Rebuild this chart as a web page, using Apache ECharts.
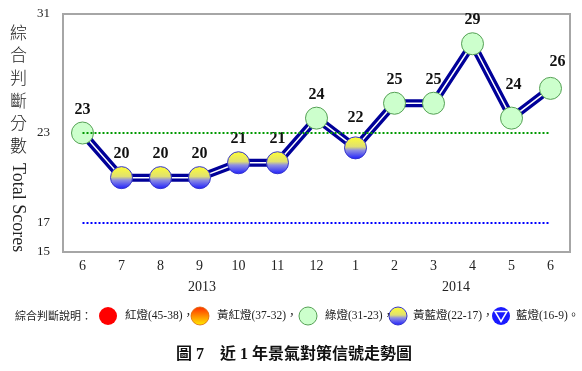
<!DOCTYPE html>
<html><head><meta charset="utf-8">
<script src="https://cdn.jsdelivr.net/npm/echarts@6/dist/echarts.min.js"></script>
<style>html,body{margin:0;padding:0;background:#fff}#c{width:582px;height:371px}</style>
</head><body><div id="c"></div>
<script>
var months = ['6','7','8','9','10','11','12','1','2','3','4','5','6'];
var scores = [23,20,20,20,21,21,24,22,25,25,29,24,26];
var yTicks = [15,17,23,31];
var years = ['2013','2014'];

var greenLevel = 23, blueLevel = 17;
var yearX = [202, 456];
// per-point label nudges (styling only)
var labelNudge = {7:[0,-7], 11:[2,-10], 12:[7,-3]};

var serif = '"Liberation Serif", "Times New Roman", serif';
var greenStyle = {color:'#ccffcc', borderColor:'#55a055', borderWidth:1};
var ybStyle = {
  color:{type:'linear',x:0,y:0,x2:0,y2:1,colorStops:[
    {offset:0,color:'#ffff33'},{offset:0.45,color:'#e0e070'},{offset:0.6,color:'#9090e0'},{offset:1,color:'#1a1aff'}]},
  borderColor:'#3333cc', borderWidth:1
};
function styleFor(v){ return v >= 23 ? greenStyle : ybStyle; }

var chart = echarts.init(document.getElementById('c'));
var legendY = 316;
var lf = '11.5px '+serif+', "Noto Sans CJK TC"';
var graphics = [
  {type:'text', left:10, top:21, style:{text:'綜\n合\n判\n斷\n分\n數', font:'300 17px "Noto Sans CJK TC"', lineHeight:22.6, fill:'#222'}},
  {type:'text', x:27, y:163, rotation:-Math.PI/2, style:{text:'Total Scores', font:'18px '+serif, fill:'#222', verticalAlign:'top'}},
  {type:'text', x:15, y:legendY, style:{text:'綜合判斷說明：', font:'11px "Noto Sans CJK TC"', fill:'#222', verticalAlign:'middle'}},
  {type:'circle', shape:{cx:108, cy:legendY, r:9}, style:{fill:'#ff0000'}},
  {type:'text', x:125, y:legendY, style:{text:'紅燈(45-38)，', font:lf, fill:'#222', verticalAlign:'middle'}},
  {type:'circle', shape:{cx:200, cy:legendY, r:9}, style:{fill:{type:'linear',x:0,y:0,x2:0,y2:1,colorStops:[{offset:0,color:'#ff2a00'},{offset:1,color:'#ffee00'}]}, stroke:'#dd6600', lineWidth:0.8}},
  {type:'text', x:217, y:legendY, style:{text:'黃紅燈(37-32)，', font:lf, fill:'#222', verticalAlign:'middle'}},
  {type:'circle', shape:{cx:308, cy:legendY, r:9}, style:{fill:'#ccffcc', stroke:'#55a055', lineWidth:1}},
  {type:'text', x:325, y:legendY, style:{text:'綠燈(31-23)，', font:lf, fill:'#222', verticalAlign:'middle'}},
  {type:'circle', shape:{cx:398, cy:legendY, r:9}, style:{fill:ybStyle.color, stroke:'#3333cc', lineWidth:1}},
  {type:'text', x:413, y:legendY, style:{text:'黃藍燈(22-17)，', font:lf, fill:'#222', verticalAlign:'middle'}},
  {type:'circle', shape:{cx:501, cy:legendY, r:9}, style:{fill:'#1a1aff'}},
  {type:'polygon', shape:{points:[[495,311.5],[507,311.5],[501,321.5]]}, style:{fill:'#1a1aff', stroke:'#ffffff', lineWidth:1.5}},
  {type:'text', x:516, y:legendY, style:{text:'藍燈(16-9)。', font:lf, fill:'#222', verticalAlign:'middle'}},
  {type:'text', x:294, y:355, style:{text:'圖 7　近 1 年景氣對策信號走勢圖', font:'bold 16px '+serif+', "Noto Sans CJK TC"', fill:'#111', align:'center', verticalAlign:'middle'}}
];
years.forEach(function(t, i){
  graphics.push({type:'text', x:yearX[i], y:287, style:{text:t, font:'14px '+serif, fill:'#222', align:'center', verticalAlign:'middle'}});
});

chart.setOption({
  animation:false,
  grid:{left:63, right:12, top:14, bottom:119, show:true, borderColor:'#a6a6a6', borderWidth:2, backgroundColor:'transparent'},
  xAxis:{type:'category', data:months, boundaryGap:true,
    axisLine:{show:false}, axisTick:{show:false}, splitLine:{show:false},
    axisLabel:{margin:7, fontFamily:serif, fontSize:14, color:'#222', interval:0}},
  yAxis:{type:'value', min:15, max:31, interval:1,
    axisLine:{show:false}, axisTick:{show:false}, splitLine:{show:false},
    axisLabel:{margin:13, fontFamily:serif, fontSize:13, color:'#222',
      formatter:function(v){ return yTicks.indexOf(v) >= 0 ? String(v) : ''; }}},
  graphic:graphics,
  series:[
    {type:'line', data:scores, symbol:'none', z:2, silent:true,
      lineStyle:{color:'#000099', width:8},
      markLine:{silent:true, symbol:'none', label:{show:false},
        data:[
          [{coord:[0,greenLevel], lineStyle:{color:'#009900', type:[2,2], width:2}},{coord:[months.length-1,greenLevel]}],
          [{coord:[0,blueLevel], lineStyle:{color:'#0000ff', type:[2,2], width:2}},{coord:[months.length-1,blueLevel]}]
        ]}},
    {type:'line', data:scores, symbol:'none', z:3, silent:true,
      lineStyle:{color:'#ffffff', width:1.5}},
    {type:'line', z:4, lineStyle:{width:0, opacity:0},
      data:scores.map(function(v, i){
        var d = {value:v, itemStyle:styleFor(v)};
        if (labelNudge[i]) d.label = {offset:labelNudge[i]};
        return d;
      }),
      symbol:'circle', symbolSize:22, showSymbol:true,
      label:{show:true, position:'top', distance:4, fontFamily:serif, fontWeight:'bold', fontSize:16, color:'#111'}}
  ]
});
</script></body></html>
